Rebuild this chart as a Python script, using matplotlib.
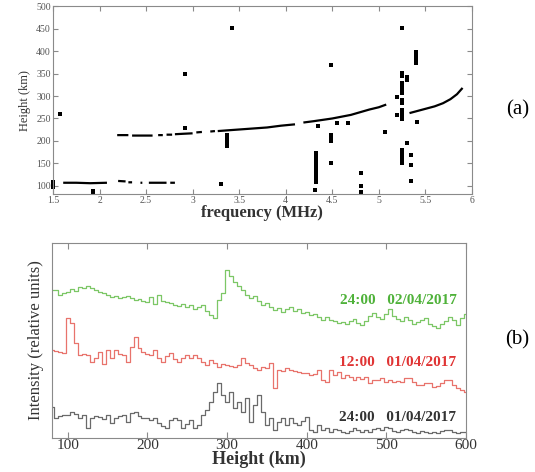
import numpy as np
import matplotlib
matplotlib.use("Agg")
import matplotlib.pyplot as plt

nan = np.nan

# ---- panel (a): ionogram traces, frequency (MHz) vs virtual height (km)
e_freq = [1.61, 1.75, 1.9, 2.08, nan, 2.2, 2.28, nan, 2.31, 2.35, nan,
          2.44, 2.46, nan, 2.53, 2.72, nan, 2.76, 2.81]
e_height = [107, 107, 106, 107, nan, 111, 110, nan, 108, 108, nan,
            107, 107, nan, 107, 107, nan, 107, 107]

f_freq = [2.19, 2.31, nan, 2.35, 2.57, nan, 2.63, 2.68, nan, 2.72, 2.78, nan,
          2.81, 2.9, 3.0, nan, 3.04, 3.1, nan, 3.19, 3.24, nan,
          3.27, 3.4, 3.6, 3.8, 3.95, 4.1, nan,
          4.19, 4.3, 4.5, 4.7, 4.9, 5.0, 5.08]
f_height = [213, 213, nan, 212, 212, nan, 213, 213, nan, 214, 214, nan,
            215, 216, 217, nan, 219, 220, nan, 221, 222, nan,
            222, 224, 227, 230, 234, 237, nan,
            241, 244, 250, 258, 270, 275, 281]

f2_freq = [5.33, 5.42, 5.51, 5.6, 5.69, 5.77, 5.84, 5.9]
f2_height = [262, 267, 272, 277, 284, 293, 304, 318]

# isolated echoes
spot_freq = ([1.5] * 3 + [1.575] + [1.93] * 2 + [2.92] * 2 + [3.3]
             + [3.37] * 6 + [3.42]
             + [4.33] * 14 + [4.32] + [4.35]
             + [4.49] * 5 + [4.55, 4.67]
             + [4.81] * 4 + [5.07, 5.2, 5.2]
             + [5.245] * 18 + [5.3] * 3 + [5.35] * 3 + [5.41]
             + [5.405] * 6)
spot_height = ([108, 102, 98] + [259] + [89, 84] + [349, 229] + [104]
               + [188, 193, 198, 203, 208, 213] + [451]
               + [173, 168, 163, 158, 153, 148, 143, 138, 133, 128, 123, 118, 113, 108]
               + [91] + [233]
               + [369, 213, 207, 200, 150] + [240, 241]
               + [129, 99, 87, 84] + [221, 298, 258]
               + [451, 352, 345, 330, 320, 313, 306, 291, 284, 269, 262, 255, 248,
                  180, 173, 166, 159, 152]
               + [342, 335, 196] + [169, 147, 111] + [242]
               + [397, 392, 387, 382, 377, 373])

# ---- panel (b): intensity profiles (relative units), 5 km steps
height_km = np.arange(80, 605, 5)

green_2404 = [148, 148, 143, 145, 146, 149, 147, 151, 150, 152,
              150, 148, 146, 145, 143, 141, 142, 140, 141, 142,
              140, 138, 139, 137, 136, 141, 134, 143, 137, 136,
              135, 133, 132, 134, 131, 133, 129, 131, 133, 127,
              123, 120, 138, 145, 168, 162, 156, 152, 148, 143,
              140, 142, 137, 133, 135, 131, 128, 130, 126, 129,
              131, 127, 129, 125, 126, 123, 124, 121, 118, 121,
              118, 117, 115, 116, 114, 117, 119, 115, 113, 117,
              122, 125, 121, 119, 124, 129, 122, 119, 117, 121,
              118, 114, 116, 118, 120, 114, 112, 110, 114, 117,
              121, 118, 113, 120, 124]

red_1201 = [88, 87, 86, 85, 120, 115, 95, 83, 84, 83,
            76, 80, 86, 74, 88, 80, 88, 84, 83, 76,
            91, 101, 90, 86, 84, 83, 88, 80, 76, 82,
            85, 79, 76, 80, 83, 80, 83, 80, 76, 73,
            78, 75, 71, 74, 73, 72, 71, 73, 80, 75,
            73, 70, 68, 71, 70, 75, 50, 68, 67, 70,
            68, 67, 66, 65, 65, 63, 64, 68, 58, 56,
            68, 63, 66, 60, 63, 61, 58, 61, 59, 61,
            55, 58, 58, 60, 56, 58, 56, 57, 56, 60,
            60, 56, 53, 53, 55, 55, 51, 52, 55, 58,
            58, 53, 50, 48, 46]

grey_2401 = [31, 20, 22, 23, 23, 26, 24, 20, 23, 10,
             20, 22, 21, 19, 23, 15, 20, 22, 23, 16,
             25, 26, 22, 20, 20, 18, 20, 15, 12, 10,
             18, 20, 18, 10, 14, 18, 10, 13, 23, 28,
             36, 46, 55, 43, 36, 46, 30, 36, 26, 40,
             16, 33, 43, 26, 13, 20, 8, 16, 20, 13,
             20, 15, 13, 17, 21, 8, 6, 13, 8, 10,
             6, 9, 8, 6, 5, 7, 10, 8, 6, 8,
             6, 9, 10, 8, 11, 10, 7, 6, 8, 9,
             8, 6, 5, 7, 6, 5, 6, 5, 7, 8,
             8, 6, 5, 6, 6]

profile_labels = ["24:00   02/04/2017", "12:00   01/04/2017", "24:00   01/04/2017"]
line_colors = ["#7cc766", "#e8736c", "#6a6a6a"]
text_colors = ["#4fb23a", "#e03434", "#333333"]
label_levels = [138, 76, 21]

plt.rcParams['font.family'] = ['Liberation Serif', 'DejaVu Serif']

fig = plt.figure(figsize=(5.35, 4.72), dpi=100)
spine_col = "#8a8a8a"

# ---------------- (a)
ax1 = fig.add_axes([0.099, 0.589, 0.783, 0.398])
ax1.plot(e_freq, e_height, color="k", lw=1.6, solid_capstyle="butt")
ax1.plot(f_freq, f_height, color="k", lw=1.6, solid_capstyle="butt")
ax1.plot(f2_freq, f2_height, color="k", lw=1.6, solid_capstyle="butt")
ax1.plot(spot_freq, spot_height, ls="none", marker="s", ms=2.3, mew=0,
         color="k", clip_on=False)
ax1.set_xlim(1.5, 6)
ax1.set_ylim(82, 500)
ax1.set_xticks(np.arange(1.5, 6.01, 0.5))
ax1.set_xticklabels(["1.5", "2", "2.5", "3", "3.5", "4", "4.5", "5", "5.5", "6"])
ax1.set_yticks(np.arange(100, 501, 50))
ax1.tick_params(direction="in", top=True, right=True, length=3.5,
                color=spine_col, labelsize=7, labelcolor="#555555", pad=1.5)
for s in ax1.spines.values():
    s.set_color(spine_col)
ax1.set_xlabel("frequency (MHz)", fontsize=12, fontweight="bold",
               color="#333333", labelpad=0)
ax1.set_ylabel("Height (km)", fontsize=9, color="#333333", labelpad=4)
fig.text(0.967, 0.767, "(a)", fontsize=15, ha="center", va="center")

# ---------------- (b)
ax2 = fig.add_axes([0.097, 0.072, 0.774, 0.413])
profiles = [green_2404, red_1201, grey_2401]
for vals, lc, tc, lab, lv in zip(profiles, line_colors, text_colors,
                                 profile_labels, label_levels):
    ax2.step(height_km, vals, where="mid", color=lc, lw=0.9)
    ax2.text(588, lv, lab, color=tc, fontsize=11, fontweight="bold",
             ha="right", va="center")
ax2.set_xlim(80, 600)
ax2.set_ylim(0, 195)
ax2.set_xticks([100, 200, 300, 400, 500, 600])
ax2.set_yticks([])
ax2.tick_params(axis="x", direction="in", top=True, length=4,
                color=spine_col, labelsize=11, labelcolor="#333333", pad=1)
for s in ax2.spines.values():
    s.set_color(spine_col)
ax2.set_xlabel("Height (km)", fontsize=13, fontweight="bold",
               color="#333333", labelpad=-1)
ax2.set_ylabel("Intensity (relative units)", fontsize=12, color="#333333",
               labelpad=6)
fig.text(0.967, 0.28, "(b)", fontsize=15, ha="center", va="center")

fig.savefig("out.png", dpi=100)
